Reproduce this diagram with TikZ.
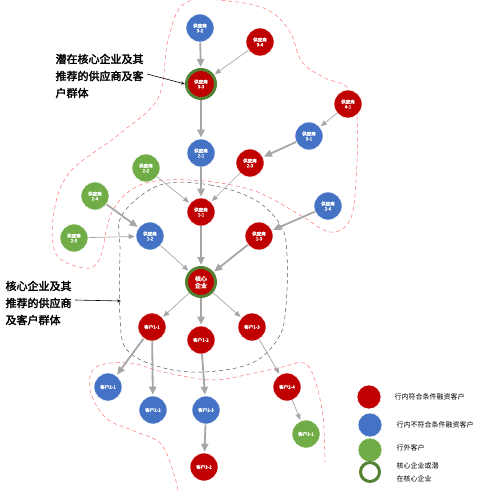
\documentclass[tikz,border=0pt]{standalone}
\usepackage{fontspec}
\setmainfont{Noto Sans CJK SC}[AutoFakeBold=2.5]
\usetikzlibrary{arrows.meta}
\definecolor{firmred}{HTML}{C00000}
\definecolor{firmblue}{HTML}{4472C4}
\definecolor{firmgreen}{HTML}{70AD47}
\definecolor{ringgreen}{HTML}{548235}
\definecolor{linkgray}{HTML}{A6A6A6}
\begin{document}
\begin{tikzpicture}[x=1pt, y=-1pt,
    firm/.style={circle, minimum size=28pt, inner sep=0pt, text=white, align=center, draw=white, line width=0.6pt, font=\fontsize{4.5}{5}\selectfont\bfseries},
    inbank/.style={firm, fill=firmred},
    nofin/.style={firm, fill=firmblue},
    outside/.style={firm, fill=firmgreen},
    corefirm/.style={inbank, minimum size=29pt, draw=ringgreen, line width=3pt},
    heavy/.style={-{Triangle[length=8pt, width=7pt]}, draw=linkgray, line width=1.8pt, shorten >=1pt},
    light/.style={-{Triangle[length=6pt, width=5pt]}, draw=linkgray, line width=0.7pt, shorten >=1pt},
    region/.style={dash pattern=on 4pt off 3pt, line width=0.5pt},
    note/.style={align=left, anchor=west, font=\fontsize{11}{17}\selectfont\bfseries},
    key/.style={anchor=west, align=left, font=\fontsize{7}{13}\selectfont}
]
    \useasboundingbox (0,0) rectangle (482,492);

    % Regions
    \draw[region, red!55] plot[smooth cycle, tension=0.6] coordinates {
        (185,3) (228,1) (268,10) (290,32) (302,62) (325,78) (348,88) (357,118)
        (356,180) (350,220) (330,232) (300,215) (252,190) (190,180) (140,185)
        (112,212) (100,258) (85,268) (56,254) (54,212) (70,172) (118,135)
        (158,98) (168,40)};
    \draw[region, black!65] plot[smooth cycle, tension=0.6] coordinates {
        (160,185) (210,185) (255,200) (281,226) (287,255) (286,305) (279,337)
        (252,363) (203,372) (160,367) (127,350) (120,317) (120,250) (122,215)};
    \draw[region, red!55] plot[smooth, tension=0.6] coordinates {
        (178,490) (172,468) (160,443) (134,431) (106,418) (90,390) (96,367)
        (130,363) (163,372) (212,380) (250,374) (282,367) (304,363) (315,380)
        (323,417) (325,462)};

    % Upper supplier tiers
    \node[nofin] (s32) at (200,28) {供应商\\3-2};
    \node[inbank] (s34) at (260,42) {供应商\\3-4};
    \node[corefirm] (s33) at (201,84) {供应商\\3-3};
    \node[inbank] (s41) at (348,104) {供应商\\4-1};
    \node[nofin] (s31) at (309,136) {供应商\\3-1};
    \node[nofin] (s21) at (201,153) {供应商\\2-1};
    \node[outside] (s22) at (146,168) {供应商\\2-2};
    \node[inbank] (s23) at (250,163) {供应商\\2-3};
    \node[outside] (s24) at (95,196) {供应商\\2-4};
    \node[nofin] (s26) at (328,206) {供应商\\2-6};
    \node[inbank] (s11) at (201,212) {供应商\\1-1};
    \node[outside] (s25) at (74,238) {供应商\\2-5};
    \node[nofin] (s12) at (150,236) {供应商\\1-2};
    \node[inbank] (s13) at (259,236) {供应商\\1-3};

    % Core
    \node[corefirm, font=\fontsize{6}{7}\selectfont\bfseries] (core) at (201,282) {核心\\企业};

    % Customer tiers
    \node[inbank] (c11) at (152,327) {客户1-1};
    \node[inbank] (c12) at (201,340) {客户1-2};
    \node[inbank] (c13) at (252,327) {客户1-3};
    \node[nofin] (c21) at (108,387) {客户2-1};
    \node[nofin] (c22) at (153,410) {客户2-2};
    \node[nofin] (c23) at (206,410) {客户2-3};
    \node[inbank] (c24) at (287,387) {客户2-4};
    \node[outside] (c31) at (306,434) {客户3-1};
    \node[inbank] (c32) at (204,467) {客户3-2};

    % Links
    \draw[heavy] (s32) -- (s33);
    \draw[light] (s34) -- (s33);
    \draw[heavy] (s33) -- (s21);
    \draw[light] (s41) -- (s31);
    \draw[heavy] (s31) -- (s23);
    \draw[heavy] (s21) -- (s11);
    \draw[light] (s22) -- (s11);
    \draw[light] (s23) -- (s11);
    \draw[heavy] (s24) -- (s12);
    \draw[light] (s25) -- (s12);
    \draw[heavy] (s26) -- (s13);
    \draw[heavy] (s11) -- (core);
    \draw[light] (s12) -- (core);
    \draw[heavy] (s13) -- (core);
    \draw[light] (core) -- (c11);
    \draw[heavy] (core) -- (c12);
    \draw[light] (core) -- (c13);
    \draw[heavy] (c11) -- (c21);
    \draw[heavy] (c11) -- (c22);
    \draw[heavy] (c12) -- (c23);
    \draw[heavy] (c23) -- (c32);
    \draw[light] (c13) -- (c24);
    \draw[light] (c24) -- (c31);

    % Notes
    \node[note] (potnote) at (52,76) {潜在核心企业及其\\推荐的供应商及客\\户群体};
    \node[note] (corenote) at (2,303) {核心企业及其\\推荐的供应商\\及客户群体};
    \coordinate (coreedge) at (121,301);
    \draw[-{Stealth[length=4pt]}, line width=0.6pt] (potnote.east |- 0,74) -- (s33.west);
    \draw[-{Stealth[length=4pt]}, line width=0.6pt] (corenote.east |- 0,300) -- (coreedge);

    % Legend
    \node[inbank, minimum size=24pt] (keyred) at (369,397) {};
    \node[nofin, minimum size=24pt] (keyblue) at (370,425) {};
    \node[outside, minimum size=24pt] (keygreen) at (370,450) {};
    \node[circle, minimum size=19pt, draw=ringgreen, line width=3pt] (keyring) at (370,472) {};
    \node[key] (keyredtxt) at (391,397) {行内符合条件融资客户};
    \node[key] (keybluetxt) at (393,425) {行内不符合条件融资客户};
    \node[key] (keygreentxt) at (393,448) {行外客户};
    \node[key] (keyringtxt) at (393,472) {核心企业或潜\\在核心企业};
\end{tikzpicture}
\end{document}
